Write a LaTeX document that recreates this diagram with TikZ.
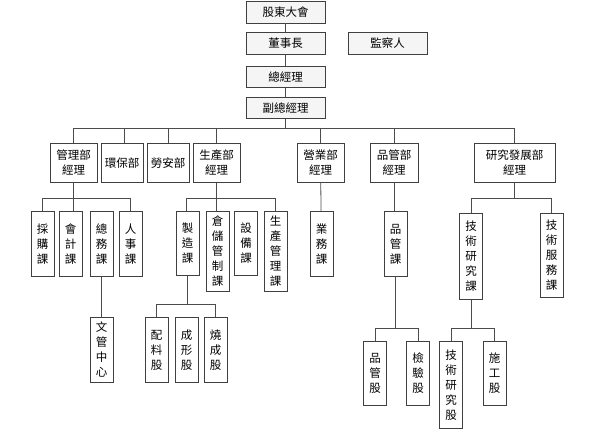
\documentclass[tikz,border=0pt]{standalone}
\usepackage{fontspec}
\newfontfamily\cjk{Noto Sans CJK TC}
\begin{document}
\begin{tikzpicture}[x=1pt, y=-1pt, every node/.style={font=\cjk\fontsize{11.5}{15}\selectfont},
  unit/.style={draw=black!75,line width=0.9pt,fill=white,inner sep=0pt,align=center,anchor=north},
  topbox/.style={unit,fill=gray!8,minimum width=79pt,minimum height=22pt},
  dept/.style={unit,minimum width=47pt,minimum height=39.5pt},
  sect/.style={unit,minimum width=23pt},
  link/.style={draw=black!70,line width=0.8pt}]
\useasboundingbox (0,0) rectangle (590,429);
% board and top management
\node[topbox] (meet) at (285.5,0.5) {股東大會};
\node[topbox] (chair) at (285.5,32) {董事長};
\node[topbox] (audit) at (387.5,32) {監察人};
\node[topbox,minimum height=21pt] (gm) at (285.5,66) {總經理};
\node[topbox,minimum height=21pt] (vgm) at (285.5,97) {副總經理};
\draw[link] (meet) -- (chair);
\draw[link] (chair) -- (gm);
\draw[link] (gm) -- (vgm);
% departments
\node[dept] (mgr) at (73.5,142.5) {管理部\\經理};
\node[dept,minimum width=42pt] (env) at (122,142.5) {環保部};
\node[dept,minimum width=42pt] (safe) at (168,142.5) {勞安部};
\node[dept] (prod) at (216.5,142.5) {生產部\\經理};
\node[dept] (sales) at (320.5,142.5) {營業部\\經理};
\node[dept,minimum width=48pt] (qc) at (394,142.5) {品管部\\經理};
\node[dept,minimum width=81pt] (rd) at (514.5,142.5) {研究發展部\\經理};
\coordinate (deptbus) at (0,128.5);
\draw[link] (vgm.south) -- (vgm.south |- deptbus);
\draw[link] (mgr.north) -- (mgr.north |- deptbus) -| (rd.north);
\foreach \d in {safe,prod,sales,qc}
  \draw[link] (\d.north) -- (\d.north |- deptbus);
\draw[link] ([xshift=2pt]env.north) -- ([xshift=2pt]env.north |- deptbus);
% sections of management
\node[sect,minimum height=65pt] (buy) at (42.5,211) {採\\購\\課};
\node[sect,minimum height=65pt] (acct) at (70.5,211) {會\\計\\課};
\node[sect,minimum height=65pt] (gen) at (101.5,211) {總\\務\\課};
\node[sect,minimum height=65pt] (hr) at (130.5,211) {人\\事\\課};
\node[sect,minimum height=65pt] (doc) at (101.5,317) {文\\管\\中\\心};
\coordinate (mgrbus) at (0,198);
\draw[link] (mgr.south) -- (mgr.south |- acct.north);
\draw[link] (buy.north) -- (buy.north |- mgrbus) -| (hr.north);
\draw[link] (gen) -- (doc);
% sections of production
\node[sect,minimum height=64pt] (make) at (187.5,211) {製\\造\\課};
\node[sect,minimum height=80pt] (store) at (217.5,211) {倉\\儲\\管\\制\\課};
\node[sect,minimum height=64pt] (equip) at (246,211) {設\\備\\課};
\node[sect,minimum height=80pt] (plan) at (275.5,211) {生\\產\\管\\理\\課};
\coordinate (prodbus) at (0,198);
\draw[link] (prod.south) -- (prod.south |- store.north);
\draw[link] ([xshift=-1.5pt]make.north) -- ([xshift=-1.5pt]make.north |- prodbus) -| (plan.north);
\node[sect,minimum height=65pt] (mix) at (156.5,317) {配\\料\\股};
\node[sect,minimum height=65pt] (shape) at (186.5,317) {成\\形\\股};
\node[sect,minimum height=65pt] (fire) at (215.5,317) {燒\\成\\股};
\coordinate (makebus) at (0,304);
\draw[link] (make.south) -- (make.south |- makebus);
\draw[link] (mix.north) -- (mix.north |- makebus) -| (fire.north);
% sales and quality
\node[sect,minimum height=65pt] (biz) at (321.5,211) {業\\務\\課};
\draw[link] (sales) -- (biz);
\node[sect,minimum height=65pt] (qcs) at (395.5,211) {品\\管\\課};
\draw[link] (qc.south) -- (qc.south |- qcs.north);
\node[sect,minimum height=64pt] (qcg) at (375,341) {品\\管\\股};
\node[sect,minimum height=64pt] (check) at (418,341) {檢\\驗\\股};
\coordinate (qcbus) at (0,328);
\draw[link] (qcs.south) -- (qcs.south |- qcbus);
\draw[link] (qcg.north) -- (qcg.north |- qcbus) -| (check.north);
% research and development
\node[sect,minimum height=86pt] (tres) at (471,213) {技\\術\\研\\究\\課};
\node[sect,minimum height=84pt] (tsrv) at (551.5,213) {技\\術\\服\\務\\課};
\coordinate (rdbus) at (0,198);
\draw[link] (rd.south) -- (rd.south |- rdbus);
\draw[link] (tres.north) -- (tres.north |- rdbus) -| (tsrv.north);
\node[sect,minimum height=87pt] (tresg) at (451,341) {技\\術\\研\\究\\股};
\node[sect,minimum height=64pt] (build) at (494.5,341) {施\\工\\股};
\coordinate (tresbus) at (0,328);
\draw[link] (tres.south) -- (tres.south |- tresbus);
\draw[link] (tresg.north) -- (tresg.north |- tresbus) -| (build.north);
\end{tikzpicture}
\end{document}
